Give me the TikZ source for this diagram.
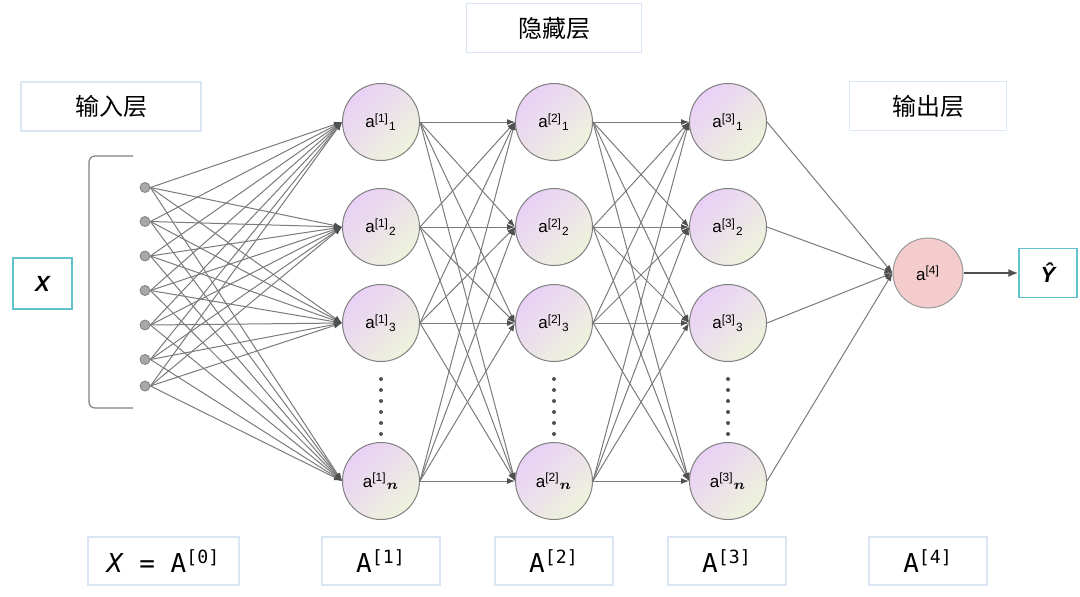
\documentclass[tikz,border=0pt]{standalone}
\usepackage{amsmath}
\usepackage{fontspec}
\setmainfont{Liberation Sans}
\newfontfamily\cjkfont{Noto Sans CJK SC}
\newfontfamily\codefont{DejaVu Sans Mono}
\usepackage{xcolor}
\usetikzlibrary{arrows.meta,positioning,calc}

\definecolor{lav}{HTML}{E9D0F6}
\definecolor{sage}{HTML}{EEF3DC}
\definecolor{ringgray}{HTML}{808080}
\definecolor{edgegray}{HTML}{7A7A7A}
\definecolor{tipgray}{HTML}{505050}
\definecolor{dotgray}{HTML}{A8A8A8}
\definecolor{rose}{HTML}{F4CCCC}
\definecolor{teal}{HTML}{62C3CC}
\definecolor{boxline}{HTML}{DAE6F3}

\tikzset{
    neuron/.style={circle, draw=ringgray, line width=0.5pt, minimum size=38.5pt,
        inner sep=0pt, top color=lav, bottom color=sage, shading angle=45,
        font=\fontsize{8.5}{10}\selectfont},
    outneuron/.style={circle, draw=ringgray!80, line width=0.5pt, minimum size=35pt,
        inner sep=0pt, fill=rose, font=\fontsize{8.5}{10}\selectfont},
    feature/.style={circle, draw=ringgray, line width=0.4pt, fill=dotgray,
        minimum size=5pt, inner sep=0pt},
    edge/.style={draw=edgegray, line width=0.5pt, -{Latex[length=4pt,width=3pt,color=tipgray]}},
    layerbox/.style={rectangle, draw=boxline, line width=0.6pt, minimum height=24.5pt,
        font=\cjkfont\fontsize{12}{14}\selectfont},
    mathbox/.style={rectangle, draw=boxline, line width=0.6pt, minimum height=24pt,
        font=\codefont\fontsize{13}{15}\selectfont},
    varbox/.style={rectangle, draw=teal, line width=0.6pt,
        font=\bfseries\itshape\fontsize{11}{13}\selectfont}
}

\begin{document}
\begin{tikzpicture}[x=0.5pt, y=-0.5pt]

    \useasboundingbox (0,0) rectangle (1080,596);

    %layer titles
    \node[layerbox, minimum width=90pt] (intitle) at (111,106.5) {输入层};
    \node[layerbox, minimum width=87.5pt] (hidtitle) at (554,28) {隐藏层};
    \node[layerbox, minimum width=78.5pt] (outtitle) at (928,106) {输出层};

    %input
    \node[varbox, minimum width=29.5pt, minimum height=25.5pt] (xin) at (42.5,283.5) {X};
    \draw [ringgray, line width=0.6pt, rounded corners=3pt] (133,156) -- (89,156) -- (89,408) -- (133,408);
    \foreach \i/\y in {1/187.5,2/221.5,3/256,4/290.5,5/325,6/359.5,7/386}
        \node[feature] (in\i) at (145,\y) {};

    %hidden layers
    \foreach \l/\x in {1/381,2/554,3/728}{
        \foreach \i/\y/\s in {1/122/1,2/227/2,3/323/3,4/481/{\fontsize{7}{7}\selectfont$\boldsymbol{n}$}}
            \node[neuron] (h\l\i) at (\x,\y) {a\textsuperscript{[\l]}\textsubscript{\s}};
        \foreach \k in {0,...,5}
            \fill [tipgray] (\x,379+\k*11) circle (1pt);
    }

    %output
    \node[outneuron] (out) at (928,273) {a\textsuperscript{[4]}};
    \node[varbox, minimum width=29pt, minimum height=24.5pt] (yhat) at (1048,273) {Ŷ};

    %connections
    \foreach \i in {1,...,7}
        \foreach \j in {1,...,4}
            \draw [edge] (in\i.east) -- (h1\j.west);
    \foreach \i in {1,...,4}
        \foreach \j in {1,...,4}{
            \draw [edge] (h1\i.east) -- (h2\j.west);
            \draw [edge] (h2\i.east) -- (h3\j.west);
        }
    \foreach \i in {1,...,4}
        \draw [edge] (h3\i.east) -- (out.west);
    \draw [tipgray, line width=1pt, -{Latex[length=5pt,width=4pt]}] (out.east) -- (yhat.west);

    %activations
    \node[mathbox, minimum width=75.5pt] (a0) at (163.5,561) {\textit{X} = A\textsuperscript{[0]}};
    \foreach \l/\x in {1/381,2/554,3/727,4/928}
        \node[mathbox, minimum width=59pt] (a\l) at (\x,561) {A\textsuperscript{[\l]}};

\end{tikzpicture}
\end{document}
